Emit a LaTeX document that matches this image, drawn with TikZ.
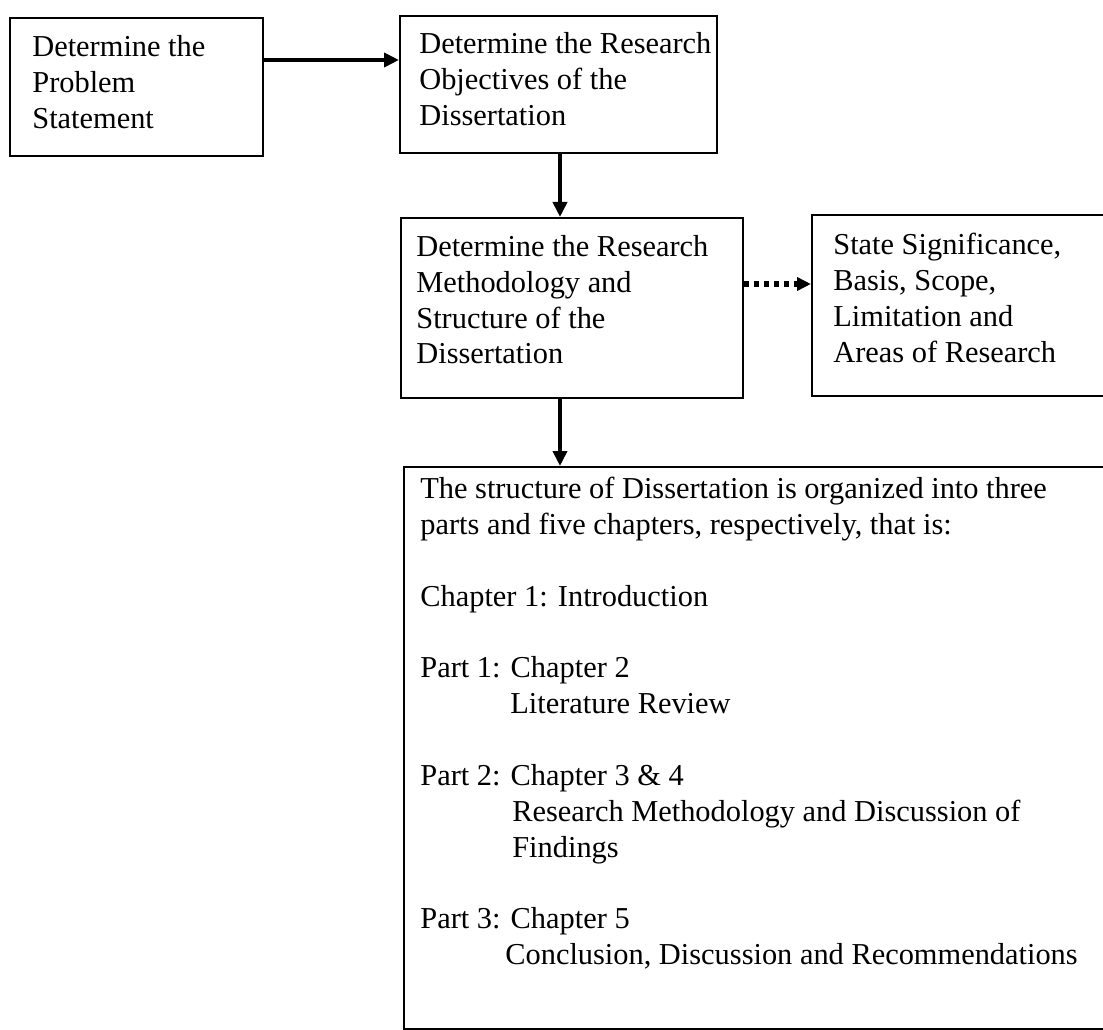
\documentclass[tikz,border=0pt]{standalone}
\usepackage{fontspec}
\setmainfont{Liberation Serif}
\usetikzlibrary{arrows.meta}

\begin{document}
\begin{tikzpicture}[x=0.02cm,y=-0.02cm,>={Triangle[length=0.3cm,width=0.28cm]},
  font=\fontsize{17.3}{20.4}\selectfont,
  frame/.style={draw,line width=1.1pt,inner sep=0pt,anchor=north west},
  txt/.style={anchor=north west,inner sep=0pt,align=left},
  flow/.style={->,line width=2.6pt},
  aside/.style={-{Triangle[length=0.28cm,width=0.26cm]},line width=3pt,
    dash pattern=on 0.11cm off 0.09cm}]
 \useasboundingbox (0,0) rectangle (1103,1030);
 \def\lskip{0.716cm}
 % boxes
 \node[frame,minimum width=5.06cm,minimum height=2.76cm] (prob) at (9,17) {};
 \node[txt] (probtxt) at ([shift={(23,18)}]prob.north west)
   {Determine the\\Problem\\Statement};
 \node[frame,minimum width=6.34cm,minimum height=2.74cm] (obj) at (399,15) {};
 \node[txt] (objtxt) at ([shift={(20,17)}]obj.north west)
   {Determine the Research\\Objectives of the\\Dissertation};
 \node[frame,minimum width=6.84cm,minimum height=3.6cm] (meth) at (400,217) {};
 \node[txt] (methtxt) at ([shift={(16,18)}]meth.north west)
   {Determine the Research\\Methodology and\\Structure of the\\Dissertation};
 \node[frame,minimum width=5.9cm,minimum height=3.62cm] (scope) at (811,214) {};
 \node[txt] (scopetxt) at ([shift={(22,19)}]scope.north west)
   {State Significance,\\Basis, Scope,\\Limitation and\\Areas of Research};
 \node[frame,minimum width=14.06cm,minimum height=11.24cm] (struct) at (403,466) {};
 \node[txt] (structtxt) at ([shift={(17,11)}]struct.north west)
   {The structure of Dissertation is organized into three\\
    parts and five chapters, respectively, that is:\\[\lskip]
    Chapter 1: Introduction\\[\lskip]
    Part 1: Chapter 2\\
    \hspace*{1.8cm}Literature Review\\[\lskip]
    Part 2: Chapter 3 \& 4\\
    \hspace*{1.84cm}Research Methodology and Discussion of\\
    \hspace*{1.84cm}Findings\\[\lskip]
    Part 3: Chapter 5\\
    \hspace*{1.7cm}Conclusion, Discussion and Recommendations};
 % connectors
 \coordinate (ab) at (0,60);
 \coordinate (spine) at (560,0);
 \coordinate (side) at (0,284);
 \draw[flow] (prob.east |- ab) -- (obj.west |- ab);
 \draw[flow] (obj.south -| spine) -- (meth.north -| spine);
 \draw[flow] (meth.south -| spine) -- (struct.north -| spine);
 \draw[aside] (meth.east |- side) -- (scope.west |- side);
\end{tikzpicture}
\end{document}
